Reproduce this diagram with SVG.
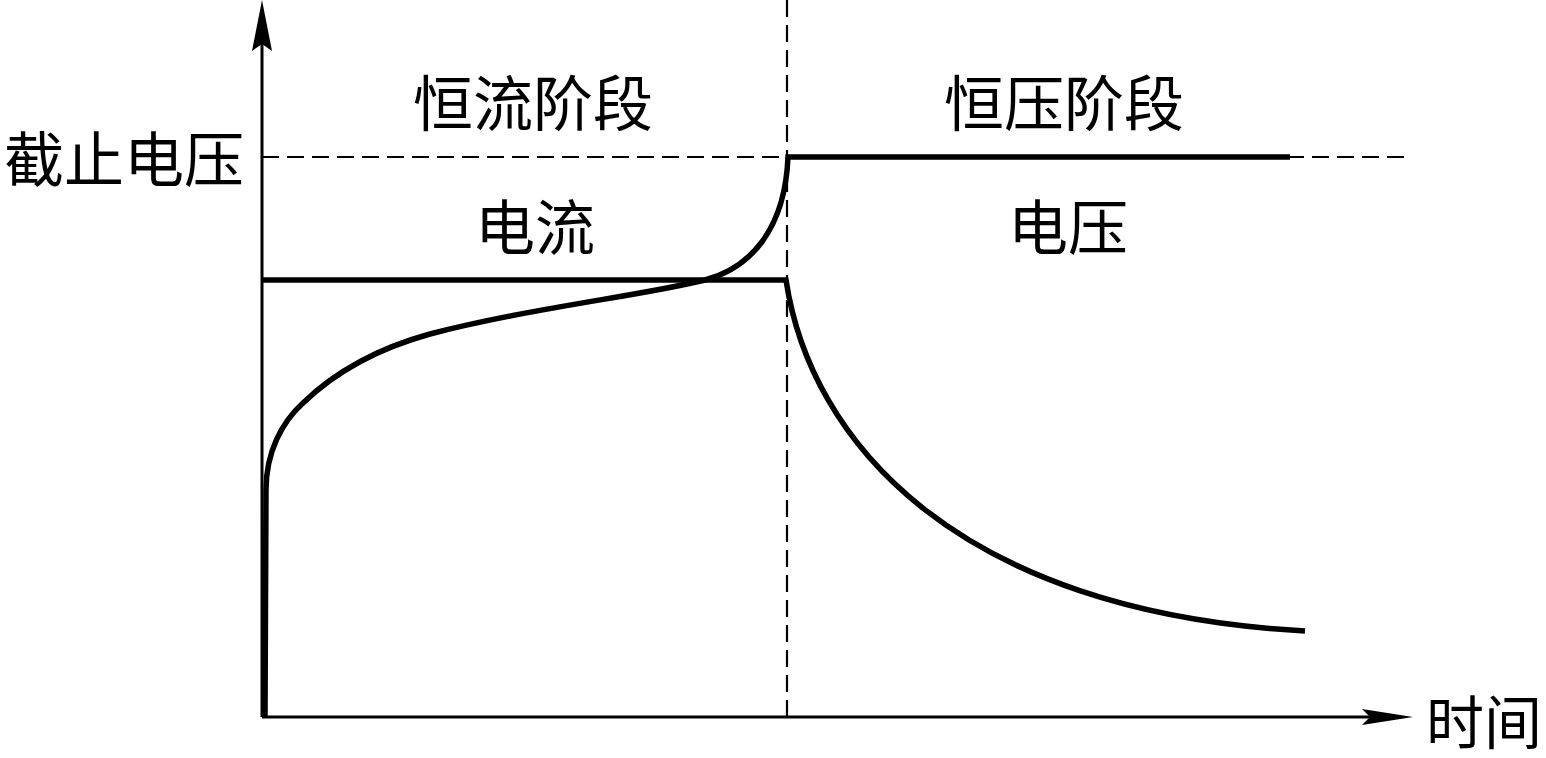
<svg xmlns="http://www.w3.org/2000/svg" width="1546" height="758" viewBox="0 0 1546 758">
<style>
.t{font-family:"Noto Sans CJK SC","Noto Sans CJK JP",sans-serif;font-size:60px;fill:#000;text-anchor:middle;dominant-baseline:central}
.axis{stroke:#000;stroke-width:3;fill:none}
.dash{stroke:#000;stroke-width:2.2;fill:none;stroke-dasharray:17 8}
.curve{stroke:#000;stroke-width:5.5;fill:none;stroke-linejoin:miter}
.head{fill:#000}
</style>
<rect width="1546" height="758" fill="#fff"/>
<g id="guides">
<line class="dash" x1="262" y1="157" x2="1406" y2="157"/>
<line class="dash" x1="787" y1="0" x2="787" y2="717"/>
</g>
<g id="axes">
<line class="axis" x1="262" y1="717" x2="262" y2="40"/>
<polygon class="head" points="262,0 272,51 262,44 252,51"/>
<line class="axis" x1="262" y1="717" x2="1372" y2="717"/>
<polygon class="head" points="1413,717 1362,709 1370,717 1362,725"/>
</g>
<g id="connectors">
<path id="voltage" class="curve" d="M265,717 L266,490 C266,452 282,422 303,403 C333,374 372,350 430,334 C530,308 640,296 705,280 C750,268 785,230 788,157 L1290,157"/>
<path id="current" class="curve" d="M262,280 L786,280 C810,440 955,612 1305,631"/>
</g>
<g id="labels">
<text id="cc-phase" class="t" x="533" y="99">恒流阶段</text>
<text id="cv-phase" class="t" x="1064" y="99">恒压阶段</text>
<text id="current-label" class="t" x="535" y="223">电流</text>
<text id="voltage-label" class="t" x="1068" y="223">电压</text>
<text id="cutoff" class="t" x="124" y="155">截止电压</text>
<text id="time" class="t" x="1484" y="719" style="font-size:58px">时间</text>
</g>
</svg>
